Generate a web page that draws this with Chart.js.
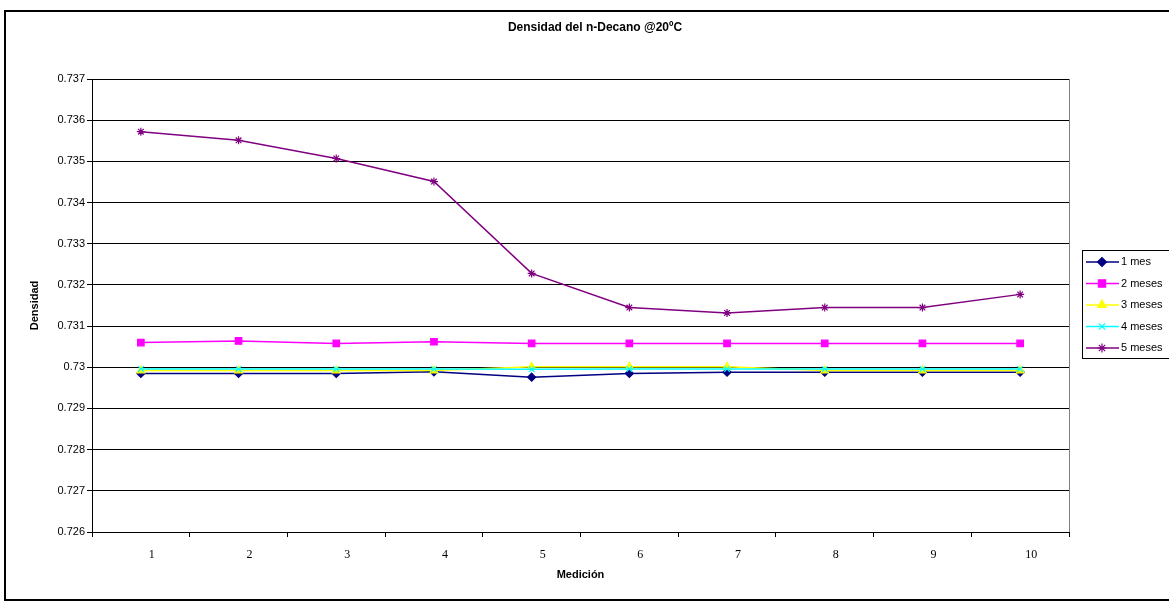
<!DOCTYPE html>
<html>
<head>
<meta charset="utf-8">
<script src="https://cdn.jsdelivr.net/npm/chart.js@4"></script>
<style>
    html, body { margin: 0; padding: 0; background: #fff; }
    #wrap { width: 1169px; height: 603px; position: relative; }
</style>
</head>
<body>
<div id="wrap"><canvas id="chart"></canvas></div>
<script>
const mediciones = ['1', '2', '3', '4', '5', '6', '7', '8', '9', '10'];
const seriesNames = ['1 mes', '2 meses', '3 meses', '4 meses', '5 meses'];

const mes1 = [0.72985, 0.72985, 0.72985, 0.72989, 0.72976, 0.72985, 0.72988, 0.72988, 0.72988, 0.72988];
const mes2 = [0.73060, 0.73064, 0.73058, 0.73062, 0.73058, 0.73058, 0.73058, 0.73058, 0.73058, 0.73058];
const mes3 = [0.72992, 0.72992, 0.72992, 0.72992, 0.73001, 0.73001, 0.73001, 0.72992, 0.72992, 0.72992];
const mes4 = [0.72996, 0.72996, 0.72996, 0.72996, 0.72995, 0.72996, 0.72996, 0.72996, 0.72996, 0.72996];
const mes5 = [0.73572, 0.73551, 0.73507, 0.73451, 0.73228, 0.73145, 0.73132, 0.73145, 0.73145, 0.73177];

const yMin = 0.726;
const yMax = 0.737;
const yStep = 0.001;

const chartTitle = 'Densidad del n-Decano @20ºC';

const colors = ['#000080', '#FF00FF', '#FFFF00', '#00FFFF', '#800080'];
const styles = ['rectRot', 'rect', 'triangle', 'crossRot', 'star'];
const radii = [4, 4.6, 4.5, 4, 4];

const allSeries = [mes1, mes2, mes3, mes4, mes5];

const datasets = allSeries.map((data, i) => ({
    label: seriesNames[i],
    data: data,
    borderColor: colors[i],
    backgroundColor: colors[i],
    borderWidth: 1.5,
    pointStyle: styles[i],
    pointRadius: radii[i],
    pointBorderWidth: 1.2,
    pointHoverRadius: radii[i],
    tension: 0,
    order: allSeries.length - i
}));

// border, title, plot edge and the Excel-like legend box
const framePlugin = {
    id: 'frame',
    beforeDraw(chart) {
        const ctx = chart.ctx;
        ctx.save();
        ctx.fillStyle = '#fff';
        ctx.fillRect(0, 0, chart.width, chart.height);
        ctx.restore();
    },
    afterDraw(chart) {
        const ctx = chart.ctx;
        const area = chart.chartArea;
        ctx.save();
        ctx.strokeStyle = '#000';
        ctx.lineWidth = 2;
        ctx.strokeRect(5, 11, 1170, 589);

        ctx.fillStyle = '#000';
        ctx.font = 'bold 12px "Liberation Sans", Arial, sans-serif';
        ctx.textAlign = 'center';
        ctx.textBaseline = 'middle';
        ctx.fillText(chartTitle, 595, 28);

        ctx.strokeStyle = '#808080';
        ctx.lineWidth = 1;
        ctx.beginPath();
        ctx.moveTo(Math.round(area.right) + 0.5, area.top);
        ctx.lineTo(Math.round(area.right) + 0.5, area.bottom);
        ctx.stroke();

        ctx.strokeStyle = '#000';
        ctx.strokeRect(1082.5, 250.5, 100, 108);

        ctx.font = '11px "Liberation Sans", Arial, sans-serif';
        ctx.textAlign = 'left';
        seriesNames.forEach((name, i) => {
            const y = 262 + i * 21.5;
            ctx.strokeStyle = colors[i];
            ctx.fillStyle = colors[i];
            ctx.lineWidth = 1.5;
            ctx.beginPath();
            ctx.moveTo(1086, y);
            ctx.lineTo(1119, y);
            ctx.stroke();
            ctx.lineWidth = 1.2;
            Chart.helpers.drawPoint(ctx, { pointStyle: styles[i], radius: radii[i] + 0.5, rotation: 0, borderWidth: 1.2 }, 1102, y);
            ctx.fillStyle = '#000';
            ctx.fillText(name, 1121, y);
        });
        ctx.restore();
    }
};

new Chart(document.getElementById('chart'), {
    type: 'line',
    data: {
        labels: mediciones,
        datasets: datasets
    },
    options: {
        responsive: true,
        maintainAspectRatio: false,
        animation: false,
        layout: {
            padding: { left: 5, right: 100, top: 79, bottom: 0 }
        },
        plugins: {
            legend: { display: false },
            tooltip: { enabled: false },
            title: { display: false }
        },
        scales: {
            x: {
                offset: true,
                afterFit: scale => { scale.height = 71; },
                grid: {
                    display: true,
                    drawOnChartArea: false,
                    drawTicks: true,
                    tickLength: 5,
                    offset: true,
                    color: '#000'
                },
                border: { display: true, color: '#000', width: 1 },
                ticks: {
                    color: '#000',
                    padding: 11,
                    labelOffset: 11,
                    maxRotation: 0,
                    font: { family: '"Liberation Serif", "Times New Roman", serif', size: 12 }
                },
                title: {
                    display: true,
                    text: 'Medición',
                    color: '#000',
                    font: { family: '"Liberation Sans", Arial, sans-serif', size: 11, weight: 'bold' },
                    padding: { top: 4, bottom: 21.4 }
                }
            },
            y: {
                min: yMin,
                max: yMax,
                afterFit: scale => { scale.width = 87; },
                grid: {
                    color: '#000',
                    lineWidth: 1,
                    drawTicks: true,
                    tickLength: 5
                },
                border: { display: true, color: '#000', width: 1 },
                ticks: {
                    stepSize: yStep,
                    color: '#000',
                    padding: 2,
                    font: { family: '"Liberation Sans", Arial, sans-serif', size: 11 },
                    callback: value => String(+value.toFixed(3))
                },
                title: {
                    display: true,
                    text: 'Densidad',
                    color: '#000',
                    font: { family: '"Liberation Sans", Arial, sans-serif', size: 11, weight: 'bold' },
                    padding: { top: 23.4, bottom: 0 }
                }
            }
        }
    },
    plugins: [framePlugin]
});
</script>
</body>
</html>
